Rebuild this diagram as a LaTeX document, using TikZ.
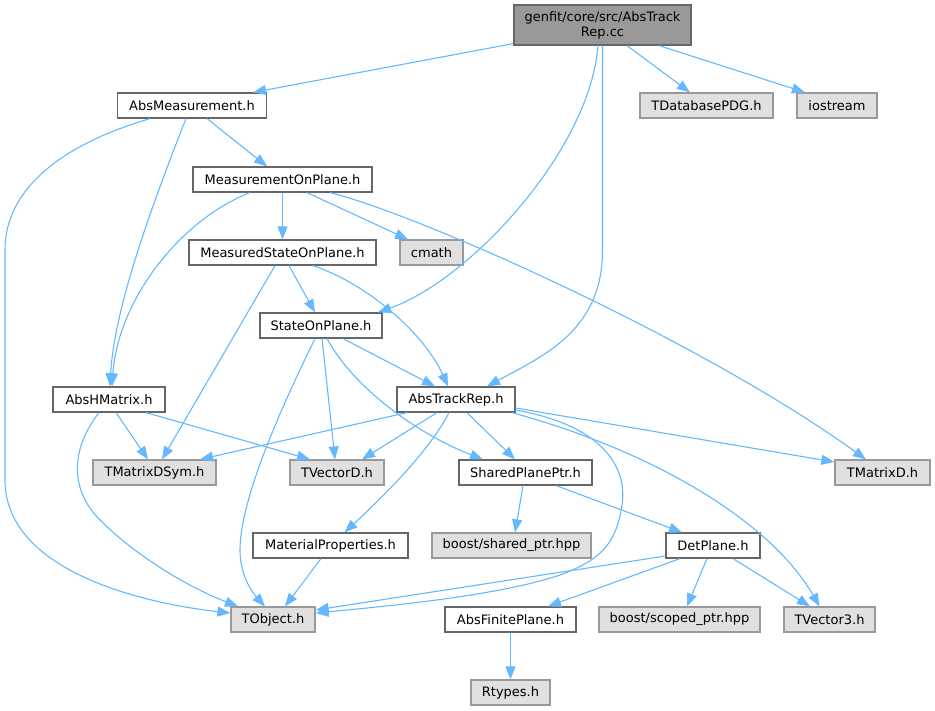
\documentclass[tikz,border=0pt]{standalone}
\usepackage{fontspec}
\setmainfont{DejaVu Sans}
\usetikzlibrary{arrows.meta}
\definecolor{edgec}{HTML}{63B8FF}
\definecolor{rootfill}{HTML}{999999}
\definecolor{rootborder}{HTML}{666666}
\definecolor{boxborder}{HTML}{666666}
\definecolor{extfill}{HTML}{E0E0E0}
\definecolor{extborder}{HTML}{999999}
\begin{document}
\begin{tikzpicture}[x=1pt,y=-1pt,
  box/.style={draw=boxborder, fill=white, line width=1.2pt, minimum height=25pt, inner sep=0pt,
    font=\fontsize{13}{15}\selectfont, text=black},
  ext/.style={box, draw=extborder, fill=extfill},
  rootbox/.style={box, draw=rootborder, fill=rootfill, minimum height=40pt, align=center},
  e/.style={draw=edgec, line width=1.1pt, -{Triangle[length=13pt,width=10pt]}}]
\useasboundingbox (0,0) rectangle (935,711);

% nodes
\node[rootbox, minimum width=177pt] (root) at (602.5,25) {genfit/core/src/AbsTrack\\Rep.cc};
\node[box, minimum width=149pt] (am) at (192,105.5) {AbsMeasurement.h};
\node[ext, minimum width=133pt] (tdb) at (706.5,105.5) {TDatabasePDG.h};
\node[ext, minimum width=80pt] (ios) at (837,105.5) {iostream};
\node[box, minimum width=179pt] (mop) at (282.5,179.5) {MeasurementOnPlane.h};
\node[box, minimum width=187pt] (msop) at (282.5,252.5) {MeasuredStateOnPlane.h};
\node[ext, minimum width=63pt] (cmath) at (431.5,252.5) {cmath};
\node[box, minimum width=122pt] (sop) at (321,325.5) {StateOnPlane.h};
\node[box, minimum width=112pt] (ahm) at (109,399.5) {AbsHMatrix.h};
\node[box, minimum width=118pt] (atr) at (456,399.5) {AbsTrackRep.h};
\node[ext, minimum width=123pt] (tmds) at (154.5,472.5) {TMatrixDSym.h};
\node[ext, minimum width=94pt] (tvd) at (337,472.5) {TVectorD.h};
\node[box, minimum width=133pt] (spp) at (525.5,472.5) {SharedPlanePtr.h};
\node[ext, minimum width=95pt] (tmd) at (882.5,472.5) {TMatrixD.h};
\node[box, minimum width=155pt] (mp) at (330.5,545.5) {MaterialProperties.h};
\node[ext, minimum width=159pt] (bsp) at (511.5,545.5) {boost/shared\_ptr.hpp};
\node[box, minimum width=94pt] (dp) at (713,545.5) {DetPlane.h};
\node[ext, minimum width=84pt] (tob) at (273,619.5) {TObject.h};
\node[box, minimum width=131pt] (afp) at (510.5,619.5) {AbsFinitePlane.h};
\node[ext, minimum width=161pt] (bscp) at (679.5,619.5) {boost/scoped\_ptr.hpp};
\node[ext, minimum width=91pt] (tv3) at (829.5,619.5) {TVector3.h};
\node[ext, minimum width=79pt] (rt) at (510.5,692.5) {Rtypes.h};

% root edges
\draw[e] ([yshift=2pt]root.south west) -- ([xshift=61pt]am.north);
\draw[e] ([xshift=-4.5pt]root.south) .. controls (590,150) and (470,280) .. ([xshift=57pt]sop.north);
\draw[e] (root.south) -- (602.5,250) .. controls (602.5,330) and (545,355) .. ([xshift=31pt]atr.north);
\draw[e] ([xshift=24.5pt]root.south) -- ([xshift=-16.5pt]tdb.north);
\draw[e] ([xshift=56.5pt]root.south) -- ([xshift=-32pt]ios.north);

% AbsMeasurement
\draw[e] ([xshift=-42pt]am.south) .. controls (60,145) and (5,190) .. (5,250) -- (5,480) .. controls (5,570) and (140,603) .. ([yshift=6.5pt]tob.west);
\draw[e] ([xshift=-6pt]am.south) .. controls (150,210) and (114,310) .. ([xshift=1pt]ahm.north);
\draw[e] ([xshift=15pt]am.south) -- ([xshift=-15.5pt]mop.north);

% MeasurementOnPlane
\draw[e] ([xshift=-32.5pt]mop.south) .. controls (180,220) and (118,300) .. ([xshift=3pt]ahm.north);
\draw[e] (mop.south) -- (msop.north);
\draw[e] ([xshift=24.5pt]mop.south) -- ([xshift=-23.5pt]cmath.north);
\draw[e] ([xshift=47.5pt]mop.south) .. controls (420,215) and (700,340) .. ([xshift=-16.5pt]tmd.north);

% MeasuredStateOnPlane
\draw[e] ([xshift=-7.5pt]msop.south) -- ([xshift=7.5pt]tmds.north);
\draw[e] ([xshift=6.5pt]msop.south) -- ([xshift=-6pt]sop.north);
\draw[e] ([xshift=30.5pt]msop.south) .. controls (370,285) and (425,335) .. ([xshift=-8pt]atr.north);

% StateOnPlane
\draw[e] ([xshift=-6pt]sop.south) .. controls (280,410) and (240,500) .. (240,550) .. controls (240,575) and (252,592) .. ([xshift=-8pt]tob.north);
\draw[e] ([xshift=1pt]sop.south) -- ([xshift=-2pt]tvd.north);
\draw[e] ([xshift=6pt]sop.south) .. controls (355,390) and (420,435) .. ([xshift=-42.5pt]spp.north);
\draw[e] ([xshift=22pt]sop.south) -- ([xshift=-21pt]atr.north);

% AbsHMatrix
\draw[e] ([xshift=7pt]ahm.south) -- ([xshift=-6.5pt]tmds.north);
\draw[e] ([xshift=37pt]ahm.south) -- ([xshift=-27pt]tvd.north);
\draw[e] ([xshift=-10pt]ahm.south) .. controls (70,450) and (70,490) .. (100,520) .. controls (140,560) and (195,590) .. ([xshift=-35pt]tob.north);

% AbsTrackRep
\draw[e] ([xshift=-49pt]atr.south) -- ([xshift=45.5pt]tmds.north);
\draw[e] ([xshift=-19pt]atr.south) -- ([xshift=25pt]tvd.north);
\draw[e] ([xshift=11pt]atr.south) -- ([xshift=-10.5pt]spp.north);
\draw[e] ([xshift=-7pt]atr.south) .. controls (430,450) and (385,495) .. ([xshift=14pt]mp.north);
\draw[e] ([yshift=-8.5pt]atr.east) -- ([yshift=10.5pt]tmd.west);
\draw[e] ([xshift=-4pt]atr.south east) .. controls (650,450) and (770,520) .. ([xshift=-10pt]tv3.north);
\draw[e] ([yshift=-10.5pt]atr.east) .. controls (600,425) and (628,465) .. (622,505) .. controls (616,545) and (600,560) .. (560,575) .. controls (500,595) and (400,605) .. ([yshift=6.5pt]tob.east);

% SharedPlanePtr
\draw[e] ([xshift=-2.5pt]spp.south) -- ([xshift=3.5pt]bsp.north);
\draw[e] ([xshift=30.5pt]spp.south) -- ([xshift=-31pt]dp.north);

% MaterialProperties
\draw[e] ([xshift=-9.5pt]mp.south) -- ([xshift=12pt]tob.north);

% DetPlane
\draw[e] ([yshift=-10.5pt]dp.west) -- ([yshift=9.5pt]tob.east);
\draw[e] ([xshift=-33pt]dp.south) -- ([xshift=37.5pt]afp.north);
\draw[e] ([xshift=-6pt]dp.south) -- ([xshift=7.5pt]bscp.north);
\draw[e] ([xshift=20pt]dp.south) -- ([xshift=-19.5pt]tv3.north);

% AbsFinitePlane
\draw[e] (afp.south) -- (rt.north);
\end{tikzpicture}
\end{document}
